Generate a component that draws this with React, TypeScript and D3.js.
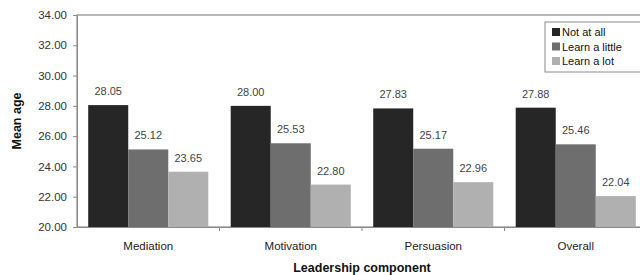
import React, { useRef, useEffect } from 'react';
import * as d3 from 'd3';

const categories = ['Mediation', 'Motivation', 'Persuasion', 'Overall'];
const seriesNames = ['Not at all', 'Learn a little', 'Learn a lot'];
const notAtAll = [28.05, 28.0, 27.83, 27.88];
const learnLittle = [25.12, 25.53, 25.17, 25.46];
const learnLot = [23.65, 22.8, 22.96, 22.04];
const yTicks = [20, 22, 24, 26, 28, 30, 32, 34];
const colors = ['#262626', '#6e6e6e', '#b0b0b0'];

export default function App() {
  const ref = useRef<SVGSVGElement>(null);

  useEffect(() => {
    const svg = d3.select(ref.current);
    svg.selectAll('*').remove();

    const margin = { top: 15, left: 77 };
    const plotW = 570;
    const plotH = 212;
    const font = 'Liberation Sans, Arial, sans-serif';

    const x = d3.scaleBand().domain(categories).range([0, plotW]).paddingInner(0).paddingOuter(0);
    const y = d3.scaleLinear().domain([20, 34]).range([plotH, 0]);
    const xs = d3.scaleBand().domain(seriesNames).range([0, x.bandwidth()]).paddingInner(0).paddingOuter(0.28);

    const g = svg.append('g').attr('transform', `translate(${margin.left},${margin.top})`);

    // frame
    g.append('rect')
      .attr('width', plotW)
      .attr('height', plotH)
      .attr('fill', 'none')
      .attr('stroke', '#8a8a8a')
      .attr('stroke-width', 1.2);

    // y axis
    const yAxis = d3.axisLeft(y).tickValues(yTicks).tickFormat(d3.format('.2f')).tickSize(4);
    const ya = g.append('g').call(yAxis);
    ya.select('.domain').attr('stroke', '#8a8a8a');
    ya.selectAll('line').attr('stroke', '#8a8a8a');
    ya.selectAll('text')
      .attr('font-family', font)
      .attr('font-size', 11.5)
      .attr('fill', '#333')
      .attr('x', -10);

    // x axis
    const xAxis = d3.axisBottom(x).tickSize(0).tickPadding(15);
    const xa = g.append('g').attr('transform', `translate(0,${plotH})`).call(xAxis);
    xa.select('.domain').attr('stroke', '#8a8a8a');
    xa.selectAll('text').attr('font-family', font).attr('font-size', 11.5).attr('fill', '#222');
    g.append('g')
      .selectAll('line')
      .data(d3.range(1, categories.length))
      .join('line')
      .attr('x1', (i) => i * x.bandwidth())
      .attr('x2', (i) => i * x.bandwidth())
      .attr('y1', plotH)
      .attr('y2', plotH + 4)
      .attr('stroke', '#8a8a8a');

    const series = [notAtAll, learnLittle, learnLot];
    series.forEach((vals, si) => {
      const sg = g.append('g');
      sg.selectAll('rect')
        .data(vals)
        .join('rect')
        .attr('x', (_, i) => (x(categories[i]) as number) + (xs(seriesNames[si]) as number))
        .attr('y', (d) => y(d))
        .attr('width', xs.bandwidth())
        .attr('height', (d) => plotH - y(d))
        .attr('fill', colors[si]);
      sg.selectAll('text')
        .data(vals)
        .join('text')
        .attr('x', (_, i) => (x(categories[i]) as number) + (xs(seriesNames[si]) as number) + xs.bandwidth() / 2)
        .attr('y', (d) => y(d) - 10)
        .attr('text-anchor', 'middle')
        .attr('font-family', font)
        .attr('font-size', 11)
        .attr('fill', '#444')
        .text((d) => d3.format('.2f')(d));
    });

    // axis titles
    svg.append('text')
      .attr('transform', `translate(21,${margin.top + plotH / 2}) rotate(-90)`)
      .attr('text-anchor', 'middle')
      .attr('font-family', font)
      .attr('font-weight', 'bold')
      .attr('font-size', 12.5)
      .attr('fill', '#111')
      .text('Mean age');
    svg.append('text')
      .attr('x', margin.left + (2 * x.bandwidth()))
      .attr('y', 272)
      .attr('text-anchor', 'middle')
      .attr('font-family', font)
      .attr('font-weight', 'bold')
      .attr('font-size', 12.5)
      .attr('fill', '#111')
      .text('Leadership component');

    // legend
    const lg = svg.append('g').attr('transform', 'translate(545,22)');
    lg.append('rect')
      .attr('width', 98)
      .attr('height', 50)
      .attr('fill', '#fff')
      .attr('stroke', '#8a8a8a');
    seriesNames.forEach((name, i) => {
      lg.append('rect')
        .attr('x', 7)
        .attr('y', 6 + i * 14.5)
        .attr('width', 8)
        .attr('height', 8)
        .attr('fill', colors[i]);
      lg.append('text')
        .attr('x', 17)
        .attr('y', 14 + i * 14.5)
        .attr('font-family', font)
        .attr('font-size', 11)
        .attr('fill', '#111')
        .text(name);
    });
  }, []);

  return (
    <svg
      ref={ref}
      width={640}
      height={275}
      style={{ position: 'absolute', left: 0, top: 0, background: '#fff' }}
    />
  );
}
